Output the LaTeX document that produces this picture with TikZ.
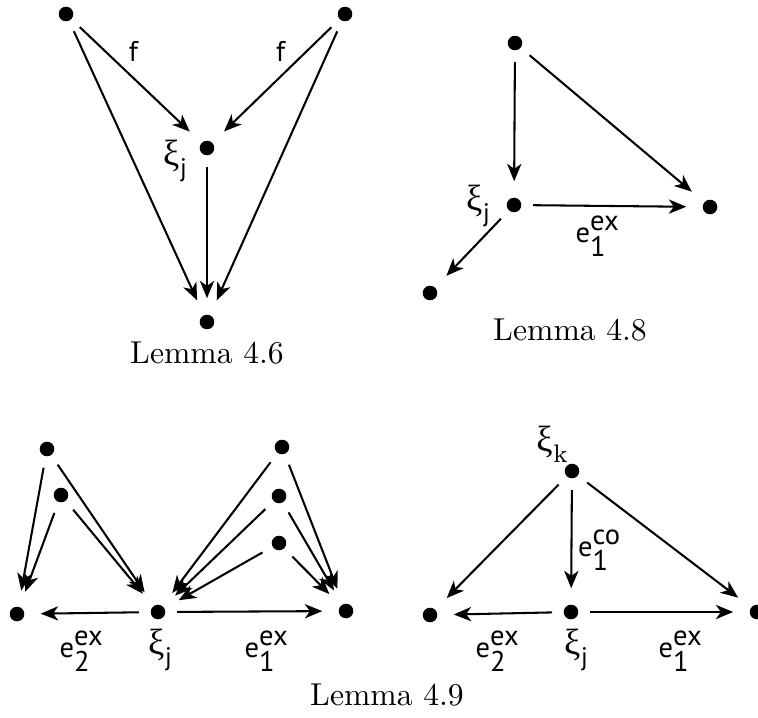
\documentclass[tikz,border=0pt]{standalone}
\usepackage{fontspec}
\setsansfont{PT Sans}
\newfontfamily\grkfont{Liberation Serif}
\usetikzlibrary{arrows.meta}

\newcommand{\xil}[1]{{\grkfont\fontsize{11.5}{12}\selectfont ξ}\kern0.3pt\raisebox{-3.4pt}{\footnotesize #1}}

\tikzset{
  dot/.style={circle, fill=black, inner sep=0pt, minimum size=4.6pt},
  arr/.style={->, line width=0.65pt, shorten <=3.5pt, shorten >=5pt},
  lbl/.style={font=\small}
}

\begin{document}
\begin{tikzpicture}[x=0.0111cm, y=-0.0111cm, >={Stealth[length=5.5pt,width=4.5pt,inset=1.6pt]}]
  \useasboundingbox (0,0) rectangle (758,717);

  % Lemma 4.6
  \node[dot] (p1) at (66,14) {};
  \node[dot] (p2) at (345,14) {};
  \node[dot] (pj) at (207,148) {};
  \node[dot] (pb) at (207,322) {};
  \draw[arr] (p1) -- (pj);
  \draw[arr] (p2) -- (pj);
  \draw[arr] (p1) -- (pb);
  \draw[arr] (p2) -- (pb);
  \draw[arr] (pj) -- (pb);
  \node[lbl] (f1) at (134,51) {\textsf{f}};
  \node[lbl] (f2) at (281,51) {\textsf{f}};
  \node[lbl] (lpj) at (175,161) {\xil{\sffamily j}};
  \node (cap1) at (207,353) {Lemma 4.6};

  % Lemma 4.8
  \node[dot] (q1) at (515,43) {};
  \node[dot] (qj) at (514,205) {};
  \node[dot] (qr) at (710,207) {};
  \node[dot] (ql) at (430,293) {};
  \draw[arr] (q1) -- (qj);
  \draw[arr] (q1) -- (qr);
  \draw[arr] (qj) -- (qr);
  \draw[arr] (qj) -- (ql);
  \node[lbl] (lqj) at (478,206) {\xil{\sffamily j}};
  \node[lbl] (lqe) at (598,236) {$\textsf{e}^{\textsf{ex}}_{\textsf{1}}$};
  \node (cap2) at (570,330) {Lemma 4.8};

  % Lemma 4.9, left
  \node[dot] (ra) at (47,449) {};
  \node[dot] (rb) at (61,495) {};
  \node[dot] (rl) at (17,614) {};
  \node[dot] (rj) at (158,612) {};
  \node[dot] (rd) at (282,447) {};
  \node[dot] (re) at (279,496) {};
  \node[dot] (rf) at (279,543) {};
  \node[dot] (rr) at (346,611) {};
  \draw[arr] (ra) -- (rl);
  \draw[arr] (rb) -- (rl);
  \draw[arr] (ra) -- (rj);
  \draw[arr] (rb) -- (rj);
  \draw[arr] (rd) -- (rj);
  \draw[arr] (re) -- (rj);
  \draw[arr] (rf) -- (rj);
  \draw[arr] (rd) -- (rr);
  \draw[arr] (re) -- (rr);
  \draw[arr] (rf) -- (rr);
  \draw[arr] (rj) -- (rl);
  \draw[arr] (rj) -- (rr);
  \node[lbl] (lre2) at (82,651) {$\textsf{e}^{\textsf{ex}}_{\textsf{2}}$};
  \node[lbl] (lrj) at (160,650) {\xil{\sffamily j}};
  \node[lbl] (lre1) at (267,651) {$\textsf{e}^{\textsf{ex}}_{\textsf{1}}$};

  % Lemma 4.9, right
  \node[dot] (sk) at (572,471) {};
  \node[dot] (sl) at (430,615) {};
  \node[dot] (sj) at (571,612) {};
  \node[dot] (sr) at (757,612) {};
  \draw[arr] (sk) -- (sl);
  \draw[arr] (sk) -- (sj);
  \draw[arr] (sk) -- (sr);
  \draw[arr] (sj) -- (sl);
  \draw[arr] (sj) -- (sr);
  \node[lbl] (lsk) at (552,444) {\xil{\rmfamily k}};
  \node[lbl] (lsc) at (600,550) {$\textsf{e}^{\textsf{co}}_{\textsf{1}}$};
  \node[lbl] (lse2) at (498,651) {$\textsf{e}^{\textsf{ex}}_{\textsf{2}}$};
  \node[lbl] (lsj) at (576,650) {\xil{\sffamily j}};
  \node[lbl] (lse1) at (681,651) {$\textsf{e}^{\textsf{ex}}_{\textsf{1}}$};
  \node (cap3) at (387,695) {Lemma 4.9};
\end{tikzpicture}
\end{document}
